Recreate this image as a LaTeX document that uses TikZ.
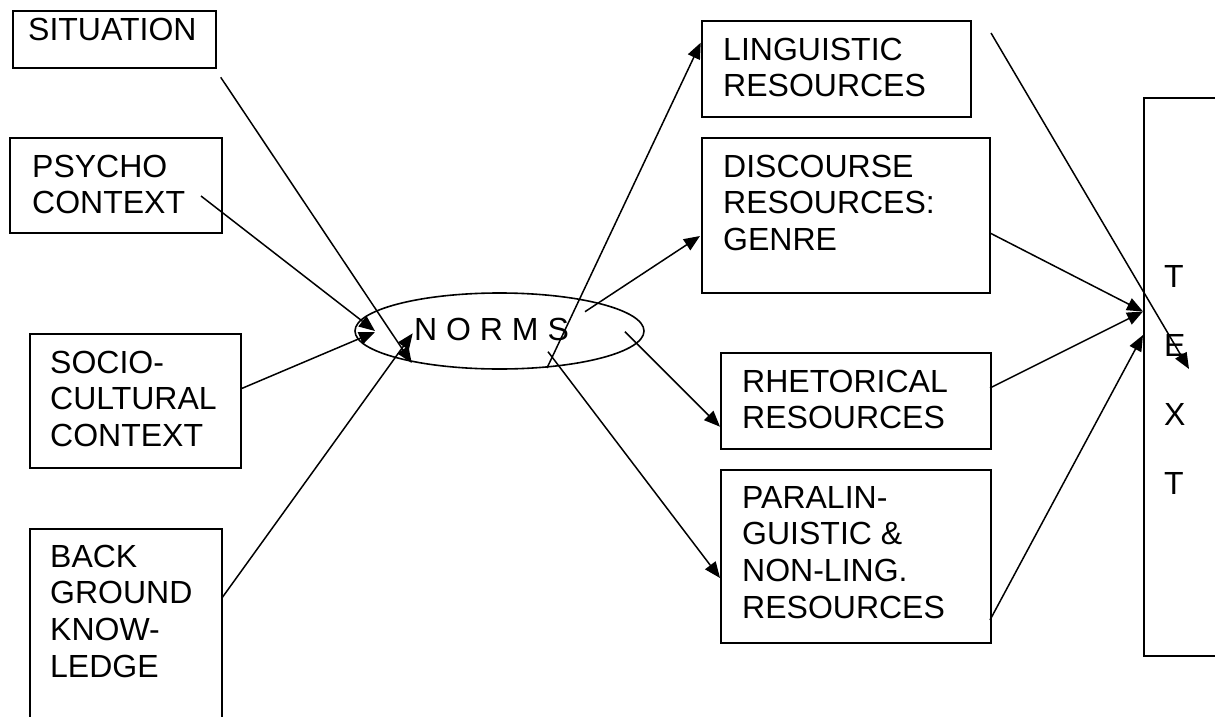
\documentclass[tikz,border=0pt]{standalone}
\usepackage{fontspec}
\setmainfont{Liberation Sans}
\usetikzlibrary{arrows.meta,shapes.geometric}
\begin{document}
\begin{tikzpicture}[x=1pt,y=-1pt,
  rbox/.style={draw, line width=1.6pt, rectangle, inner sep=0pt, anchor=north west},
  oval/.style={draw, line width=1.6pt, ellipse, inner sep=0pt},
  txt/.style={inner sep=0pt, anchor=base west, font=\fontsize{32}{36.8}\selectfont},
  conn/.style={line width=1.5pt, -{Triangle[length=16pt,width=13pt]}}]
\useasboundingbox (0,0) rectangle (1215,717);
\clip (0,0) rectangle (1215,717);
\fill[white] (0,0) rectangle (1215,717);

% boxes
\node[rbox, minimum width=203pt, minimum height=57pt] (sit) at (12,10) {};
\node[rbox, minimum width=212pt, minimum height=95pt] (psy) at (9,137) {};
\node[rbox, minimum width=211pt, minimum height=134pt] (soc) at (29,333) {};
\node[rbox, minimum width=192pt, minimum height=212pt] (bg) at (29,528) {};
\node[rbox, minimum width=269pt, minimum height=96pt] (lin) at (701,20) {};
\node[rbox, minimum width=288pt, minimum height=155pt] (dis) at (701,137) {};
\node[rbox, minimum width=270pt, minimum height=96pt] (rhe) at (720,352) {};
\node[rbox, minimum width=270pt, minimum height=173pt] (par) at (720,469) {};
\node[rbox, minimum width=90pt, minimum height=558pt] (text) at (1143,97) {};
\node[oval, minimum width=289pt, minimum height=76pt] (norms) at (499.5,331) {};

% texts
\node[txt] (sitT) at (28,41) {SITUATION};
\node[txt] (psyT) at (32,177) {\vtop{\hbox{PSYCHO}\hbox{CONTEXT}}};
\node[txt] (socT) at (50,373) {\vtop{\hbox{SOCIO-}\hbox{CULTURAL}\hbox{CONTEXT}}};
\node[txt] (bgT) at (50,567) {\vtop{\hbox{BACK}\hbox{GROUND}\hbox{KNOW-}\hbox{LEDGE}}};
\node[txt] (linT) at (723,60) {\vtop{\hbox{LINGUISTIC}\hbox{RESOURCES}}};
\node[txt] (disT) at (723,177) {\vtop{\hbox{DISCOURSE}\hbox{RESOURCES:}\hbox{GENRE}}};
\node[txt] (rheT) at (742,392) {\vtop{\hbox{RHETORICAL}\hbox{RESOURCES}}};
\node[txt] (parT) at (742,508) {\vtop{\hbox{PARALIN-}\hbox{GUISTIC \&}\hbox{NON-LING.}\hbox{RESOURCES}}};
\node[txt] (textT) at (1164,287) {\vtop{\baselineskip=69pt\hbox{T}\hbox{E}\hbox{X}\hbox{T}}};
\node[txt] (normsT) at (414,340) {N O R M S};

% connector end points
\coordinate (sitA) at (220.7,77.3);  \coordinate (sitB) at (411.7,363);
\coordinate (psyA) at (201,196);     \coordinate (psyB) at (375,331);
\coordinate (socA) at (240.5,389);   \coordinate (socB) at (375,332);
\coordinate (bgA)  at (221.7,598.3); \coordinate (bgB)  at (412.7,333.3);
\coordinate (linA) at (547,368);     \coordinate (linB) at (700.7,42.7);
\coordinate (disA) at (585,311.7);   \coordinate (disB) at (700,236);
\coordinate (rheA) at (625,331.7);   \coordinate (rheB) at (720,426.7);
\coordinate (parA) at (548,351.7);   \coordinate (parB) at (720,578);
\coordinate (disC) at (990,233);     \coordinate (tx1)  at (1143,311.5);
\coordinate (rheC) at (990,388);
\coordinate (parC) at (990,620);     \coordinate (tx2)  at (1143,335);
\coordinate (linC) at (991,33);      \coordinate (tx3)  at (1189,369);

% connectors
\draw[conn] (sitA) -- (sitB);
\draw[conn] (psyA) -- (psyB);
\draw[conn] (socA) -- (socB);
\draw[conn] (bgA) -- (bgB);
\draw[conn] (linA) -- (linB);
\draw[conn] (disA) -- (disB);
\draw[conn] (rheA) -- (rheB);
\draw[conn] (parA) -- (parB);
\draw[conn] (disC) -- (tx1);
\draw[conn] (rheC) -- (tx1);
\draw[conn] (parC) -- (tx2);
\draw[conn] (linC) -- (tx3);
\end{tikzpicture}
\end{document}
